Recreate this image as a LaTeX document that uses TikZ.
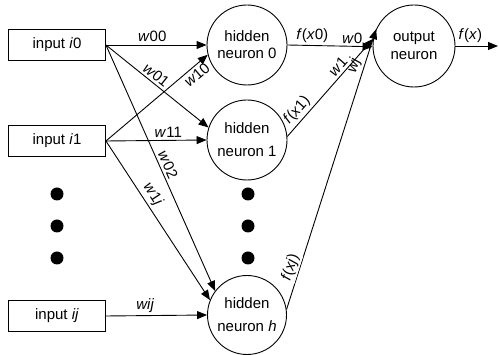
\documentclass[tikz,border=0pt]{standalone}
\usepackage{fontspec}
\setmainfont{Liberation Sans}
\usetikzlibrary{arrows.meta}
\begin{document}
\begin{tikzpicture}[x=1pt,y=1pt,
  every node/.style={font=\fontsize{15}{18}\selectfont},
  inbox/.style={draw,line width=0.9pt,minimum width=97pt,minimum height=31pt,inner sep=0pt},
  neuron/.style={draw,circle,line width=0.9pt,minimum size=80pt,inner sep=0pt,align=center},
  bigdot/.style={circle,fill=black,minimum size=13pt,inner sep=0pt},
  conn/.style={line width=0.9pt,-{Triangle[length=10pt,width=8pt]}},
  lab/.style={sloped,above,inner sep=2.5pt},
  labb/.style={sloped,below,inner sep=2.5pt}]
\useasboundingbox (0,-355) rectangle (499,0);
% inputs
\node[inbox] (i0) at (57,-45) {input \textit{i}0};
\node[inbox] (i1) at (57,-141) {input \textit{i}1};
\node[inbox] (ij) at (57,-316) {input \textit{ij}};
% hidden neurons
\node[neuron] (h0) at (247,-45) {hidden\\[-1pt]neuron 0};
\node[neuron] (h1) at (247,-140) {hidden\\[5pt]neuron 1};
\node[neuron,minimum size=79pt] (hh) at (247,-315) {hidden\\[5pt]neuron \textit{h}};
\node[neuron,minimum size=82pt] (out) at (414,-46) {output\\neuron};
\coordinate (end) at (498,-46);
% dots
\node[bigdot] (dl1) at (57,-194) {};
\node[bigdot] (dl2) at (57,-226) {};
\node[bigdot] (dl3) at (57,-258) {};
\node[bigdot] (dm1) at (248,-194) {};
\node[bigdot] (dm2) at (248,-226) {};
\node[bigdot] (dm3) at (248,-258) {};
% input -> hidden
\draw[conn] (i0.east) -- node[lab,pos=0.46] {\textit{w}00} (h0.west);
\draw[conn] (i0.east) -- node[lab,pos=0.44] {\textit{w}01} (h1.162);
\draw[conn] (i0.east) -- node[lab,pos=0.5] {\textit{w}02} (hh.143);
\draw[conn] (i1.east) -- node[labb,pos=0.84] {\textit{w}10} (h0.194);
\draw[conn] (i1.east) -- node[lab,pos=0.62] {\textit{w}11} (h1.west);
\draw[conn] (i1.east) -- node[lab,pos=0.37] {\textit{w}1\textit{j}} (hh.158);
\draw[conn] (ij.east) -- node[lab,pos=0.39] {\textit{wij}} (hh.west);
% hidden -> output
\draw[conn] (h0.east) -- node[lab,pos=0.29] {\textit{f}(\textit{x}0)} node[lab,pos=0.76] {\textit{w}0} (out.181);
\draw[conn] (h1.5) -- node[lab,pos=0.2] {\textit{f}(\textit{x}1)} node[lab,pos=0.66] {\textit{w}1} (out.170);
\draw[conn] (hh.8) -- node[lab,pos=0.14,fill=white,inner sep=1.5pt] {\textit{f}(\textit{xj})} node[lab,pos=0.86] {\textit{wj}} (out.156);
\draw[conn] (out.east) -- node[lab,pos=0.35] {\textit{f}(\textit{x})} (end);
\end{tikzpicture}
\end{document}
